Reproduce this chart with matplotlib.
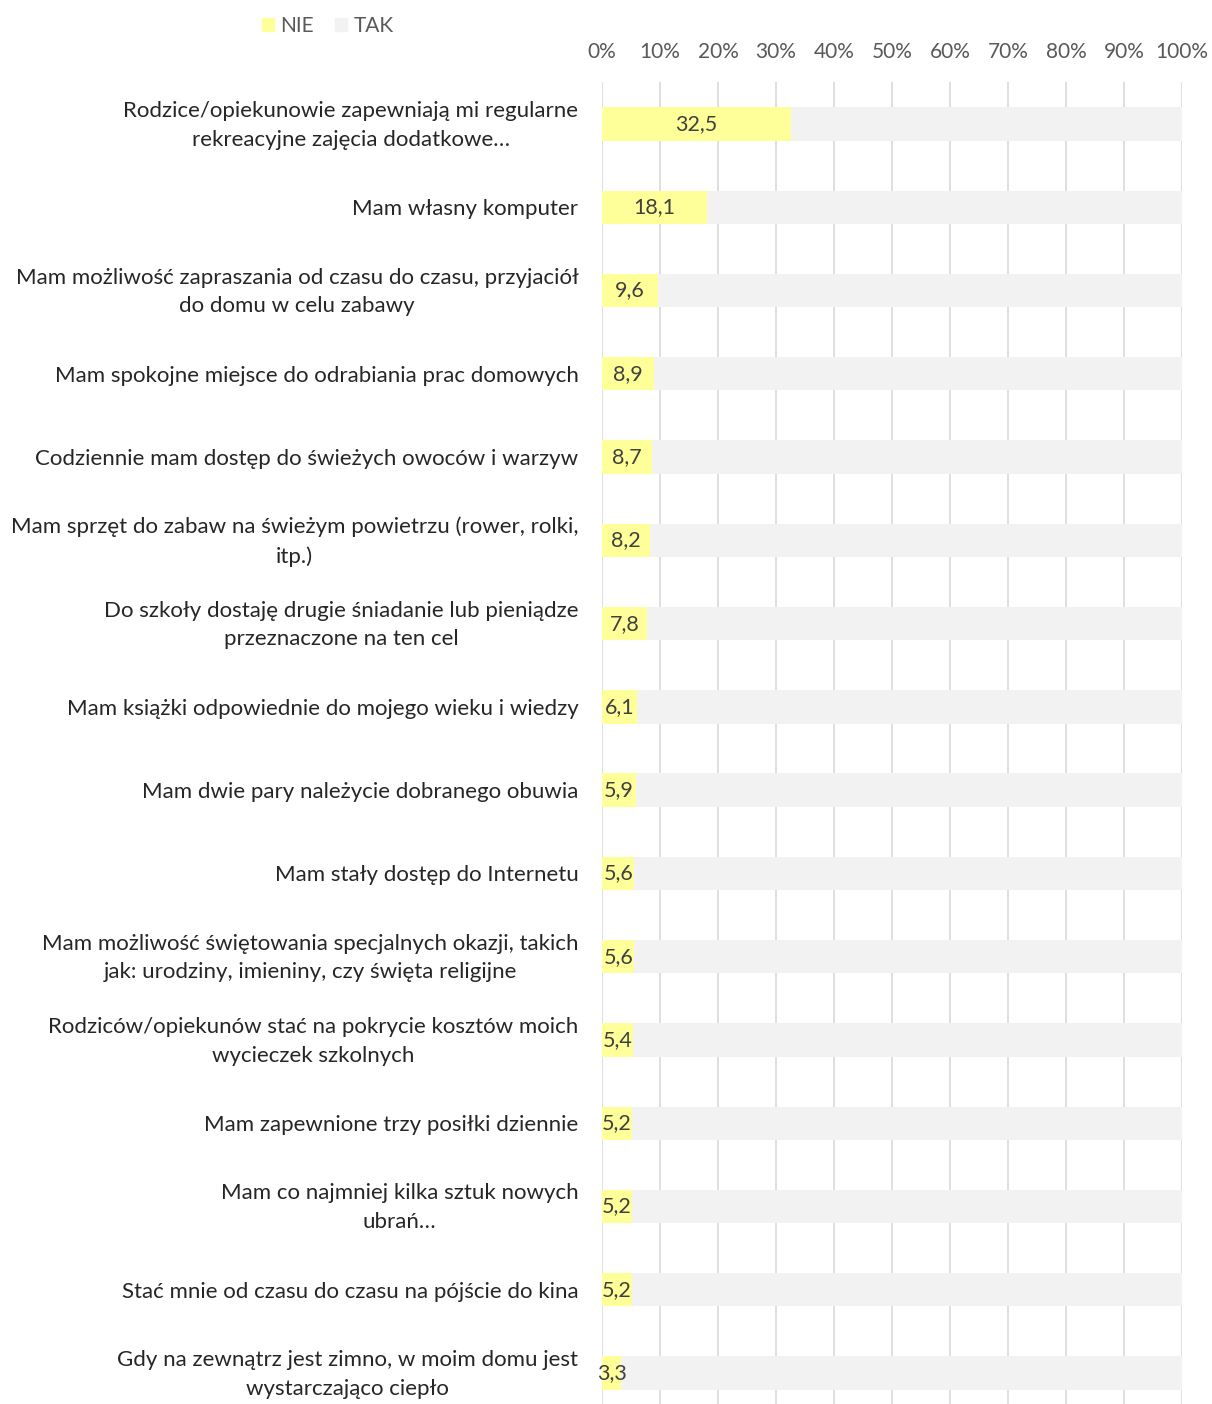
import matplotlib.pyplot as plt
from matplotlib.patches import Patch
from matplotlib.transforms import ScaledTranslation

plt.rcParams['font.family'] = ['Lato', 'DejaVu Sans']

kategorie = [
    'Rodzice/opiekunowie zapewniają mi regularne\nrekreacyjne zajęcia dodatkowe…',
    'Mam własny komputer',
    'Mam możliwość zapraszania od czasu do czasu, przyjaciół\ndo domu w celu zabawy',
    'Mam spokojne miejsce do odrabiania prac domowych',
    'Codziennie mam dostęp do świeżych owoców i warzyw',
    'Mam sprzęt do zabaw na świeżym powietrzu (rower, rolki,\nitp.)',
    'Do szkoły dostaję drugie śniadanie lub pieniądze\nprzeznaczone na ten cel',
    'Mam książki odpowiednie do mojego wieku i wiedzy',
    'Mam dwie pary należycie dobranego obuwia',
    'Mam stały dostęp do Internetu',
    'Mam możliwość świętowania specjalnych okazji, takich\njak: urodziny, imieniny, czy święta religijne',
    'Rodziców/opiekunów stać na pokrycie kosztów moich\nwycieczek szkolnych',
    'Mam zapewnione trzy posiłki dziennie',
    'Mam co najmniej kilka sztuk nowych\nubrań…',
    'Stać mnie od czasu do czasu na pójście do kina',
    'Gdy na zewnątrz jest zimno, w moim domu jest\nwystarczająco ciepło',
]
nie = [32.5, 18.1, 9.6, 8.9, 8.7, 8.2, 7.8, 6.1, 5.9, 5.6, 5.6, 5.4, 5.2, 5.2, 5.2, 3.3]
tak = [100 - v for v in nie]

kolor_nie = '#ffff99'
kolor_tak = '#f2f2f2'

fig = plt.figure(figsize=(12.12, 14.04), dpi=100)
ax = fig.add_axes([602 / 1212, 0, 580 / 1212, 1 - 82.4 / 1404])

y = list(range(len(kategorie)))
ax.barh(y, nie, height=0.4, color=kolor_nie, zorder=2)
ax.barh(y, tak, left=nie, height=0.4, color=kolor_tak, zorder=2)

# etykiety danych w srodku zoltych slupkow
for i, v in enumerate(nie):
    ax.text(v / 2, i, f'{v:.1f}'.replace('.', ','), ha='center', va='center',
            fontsize=15.5, color='#404040', zorder=3)

ax.set_xlim(0, 100)
ax.set_ylim(15.5 + 0.127 - 0.254, -0.5)
ax.set_xticks(range(0, 101, 10))
ax.set_xticklabels([f'{t}%' for t in range(0, 101, 10)])
ax.xaxis.tick_top()
ax.tick_params(axis='x', length=0, pad=15, labelsize=15, labelcolor='#595959')
ax.set_yticks(y)
ax.set_yticklabels(kategorie, fontsize=16, color='#262626', multialignment='center',
                   linespacing=1.55)
ax.tick_params(axis='y', length=0, pad=17)
# dwuwierszowe etykiety troche wyzej
for lab in ax.get_yticklabels():
    if '\n' in lab.get_text():
        lab.set_transform(lab.get_transform() + ScaledTranslation(0, 5 / 100, fig.dpi_scale_trans))
ax.grid(axis='x', color='#d9d9d9', linewidth=1.2, zorder=0)
for s in ax.spines.values():
    s.set_visible(False)

uchwyty = [Patch(color=kolor_nie, label='NIE'), Patch(color=kolor_tak, label='TAK')]
fig.legend(handles=uchwyty, loc='upper left', bbox_to_anchor=(243 / 1212, 1 + 3 / 1404),
           ncol=2, frameon=False, fontsize=15, labelcolor='#595959',
           handlelength=0.6, handleheight=0.6, handletextpad=0.3, columnspacing=1.0)

plt.savefig('out.png', dpi=100)
